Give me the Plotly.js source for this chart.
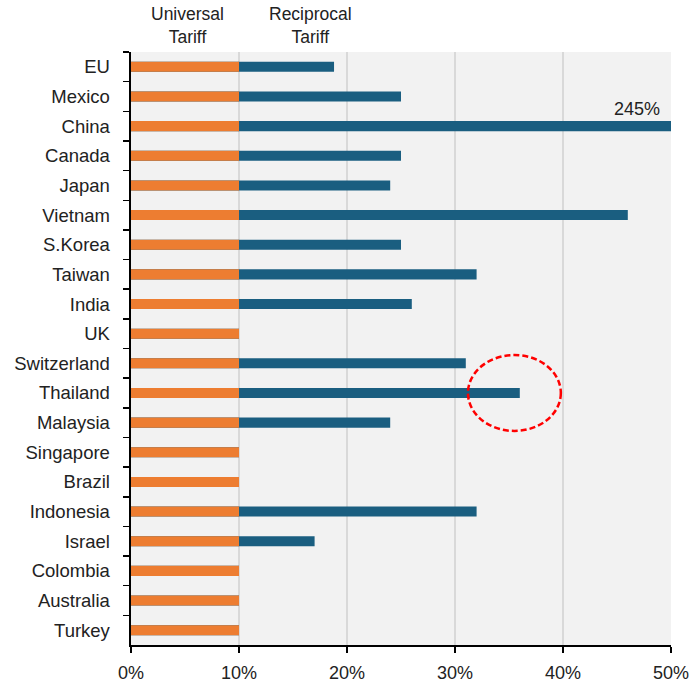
<!DOCTYPE html>
<html>
<head>
<meta charset="utf-8">
<script src="https://cdn.plot.ly/plotly-3.0.1.min.js"></script>
<style>html,body{margin:0;padding:0;background:#fff;}#chart{width:690px;height:683px;}</style>
</head>
<body>
<div id="chart"></div>
<script>
const countries = ["EU","Mexico","China","Canada","Japan","Vietnam","S.Korea","Taiwan","India","UK","Switzerland","Thailand","Malaysia","Singapore","Brazil","Indonesia","Israel","Colombia","Australia","Turkey"];
const universalTariff = [10,10,10,10,10,10,10,10,10,10,10,10,10,10,10,10,10,10,10,10];
const reciprocalTariff = [18.8,25,245,25,24,46,25,32,26,10,31,36,24,10,10,32,17,10,10,10];
const xTicks = [0,10,20,30,40,50];
const xTickLabels = ["0%","10%","20%","30%","40%","50%"];

const font = "Liberation Sans, Arial, sans-serif";

const traces = [
  {type:"bar", orientation:"h", y:countries, x:reciprocalTariff, marker:{color:"#1a5e80"}, width:0.34, name:"Reciprocal Tariff", hoverinfo:"skip"},
  {type:"bar", orientation:"h", y:countries, x:universalTariff, marker:{color:"#ed7d31"}, width:0.34, name:"Universal Tariff", hoverinfo:"skip"}
];

const layout = {
  width:690, height:683,
  margin:{l:131, r:19, t:52, b:38},
  paper_bgcolor:"#ffffff",
  plot_bgcolor:"#f2f2f2",
  barmode:"overlay",
  showlegend:false,
  font:{family:font, size:18, color:"#222"},
  xaxis:{
    range:[0,50], tickvals:xTicks, ticktext:xTickLabels,
    showgrid:true, gridcolor:"#d9d9d9", gridwidth:2,
    showline:true, linecolor:"#000", linewidth:2,
    ticks:"outside", ticklen:6, tickcolor:"#000", tickwidth:1.5,
    ticklabelstandoff:4,
    zeroline:false, fixedrange:true,
    tickfont:{size:18, family:font, color:"#222"}
  },
  yaxis:{
    type:"category", categoryorder:"array", categoryarray:countries,
    autorange:"reversed",
    showline:true, linecolor:"#000", linewidth:2,
    ticks:"outside", tickson:"boundaries", ticklen:6, tickcolor:"#000", tickwidth:1.5,
    showgrid:false, fixedrange:true,
    tickfont:{size:18.5, family:font, color:"#222"},
    ticksuffix:"   "
  },
  shapes:[
    {type:"circle", xref:"x", yref:"y", x0:31.2, x1:39.8, y0:9.72, y1:12.28,
     line:{color:"#ff0000", width:2.5, dash:"6px,3px"}, fillcolor:"rgba(0,0,0,0)"}
  ],
  annotations:[
    {text:"245%", xref:"x", yref:"y", x:49.2, y:"China", xanchor:"right", yanchor:"bottom", yshift:5, showarrow:false, font:{size:18, family:font, color:"#222"}},
    {text:"Universal<br>Tariff", xref:"paper", yref:"paper", x:(187-131)/540, y:1, xanchor:"center", yanchor:"bottom", yshift:3, showarrow:false, font:{size:17.5, family:font, color:"#222"}},
    {text:"Reciprocal<br>Tariff", xref:"paper", yref:"paper", x:(310-131)/540, y:1, xanchor:"center", yanchor:"bottom", yshift:3, showarrow:false, font:{size:17.5, family:font, color:"#222"}}
  ]
};

Plotly.newPlot("chart", traces, layout, {displayModeBar:false, staticPlot:true});
</script>
</body>
</html>
